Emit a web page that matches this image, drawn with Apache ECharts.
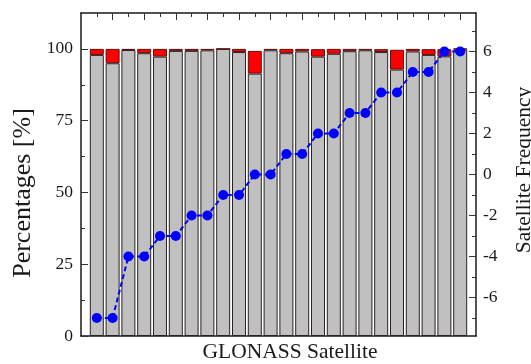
<!DOCTYPE html>
<html>
<head>
<meta charset="utf-8">
<script src="https://cdn.jsdelivr.net/npm/echarts@6/dist/echarts.min.js"></script>
<style>
  html, body { margin: 0; padding: 0; background: #fff; }
  #chart { width: 531px; height: 364px; }
</style>
</head>
<body>
<div id="chart"></div>
<script>
// GLONASS satellites, one bar per satellite slot
const satellites = ['1', '2', '3', '4', '5', '6', '7', '8', '9', '10', '11', '12',
                    '13', '14', '15', '16', '17', '18', '19', '20', '21', '22', '23', '24'];
// share of valid observations [%]
const validPct = [97.9, 95.0, 99.6, 98.5, 97.3, 99.3, 99.3, 99.5, 100.0, 98.9, 91.4, 99.5,
                  98.5, 99.1, 97.3, 98.3, 99.2, 99.5, 98.9, 92.8, 99.1, 97.9, 97.4, 99.7];
// share of rejected observations [%], stacked on top
const rejectedPct = [2.1, 5.0, 0.4, 1.5, 2.7, 0.7, 0.7, 0.5, 0.0, 1.1, 7.9, 0.5,
                     1.5, 0.9, 2.6, 1.7, 0.8, 0.5, 1.0, 6.9, 0.9, 2.0, 2.5, 0.5];
// FDMA frequency channel number
const freqChannel = [-7, -7, -4, -4, -3, -3, -2, -2, -1, -1, 0, 0, 1, 1, 2, 2, 3, 3, 4, 4, 5, 5, 6, 6];

// tick positions
const pctMajor = [0, 25, 50, 75, 100];
const pctMinor = [12.5, 37.5, 62.5, 87.5];
const freqMajor = [-6, -4, -2, 0, 2, 4, 6];
const freqMinor = [-7, -5, -3, -1, 1, 3, 5, 7];
const satMajor = [2, 4, 6, 8, 10, 12, 14, 16, 18, 20, 22, 24];
const satMinor = [1, 3, 5, 7, 9, 11, 13, 15, 17, 19, 21, 23];

const FONT = "'Liberation Serif', 'DejaVu Serif', serif";
const INK = '#1a1a1a';
const PCT_MAX = 112.5;
const FREQ_LIM = 7.875;

// frame grid: 0..25 slot scale, one unit per satellite
const FRAME = { left: 81, right: 55, top: 13, bottom: 28 };
const UNIT = (531 - FRAME.left - FRAME.right) / 25;

function xAx(pos, ticks, len, showLine) {
  return {
    gridIndex: 0, type: 'value', position: pos, min: 0, max: 25,
    axisLine: { show: showLine, onZero: false, lineStyle: { color: INK, width: 1.5 } },
    axisTick: { show: true, inside: true, length: len, customValues: ticks, lineStyle: { color: '#333', width: 1 } },
    axisLabel: { show: false },
    splitLine: { show: false }
  };
}

function yAx(grid, pos, min, max, ticks, len, labels, showLine, margin) {
  return {
    gridIndex: grid, type: 'value', position: pos, min: min, max: max,
    axisLine: { show: showLine, onZero: false, lineStyle: { color: INK, width: 1.5 } },
    axisTick: ticks ? { show: true, inside: true, length: len, customValues: ticks, lineStyle: { color: '#333', width: 1 } } : { show: false },
    axisLabel: labels ? {
      show: true, customValues: labels, margin: margin,
      fontFamily: FONT, fontSize: 17.5, color: INK
    } : { show: false },
    splitLine: { show: false }
  };
}

const chart = echarts.init(document.getElementById('chart'), null, { renderer: 'canvas' });
chart.setOption({
  animation: false,
  backgroundColor: '#fff',
  grid: [
    { left: FRAME.left, right: FRAME.right, top: FRAME.top, bottom: FRAME.bottom },
    // data grid: satellite bands sit at slots 1..24 of the frame scale
    { left: FRAME.left + UNIT / 2, right: FRAME.right + UNIT / 2, top: FRAME.top, bottom: FRAME.bottom }
  ],
  xAxis: [
    xAx('bottom', satMajor, 7, true),
    xAx('bottom', satMinor, 4, false),
    xAx('top', satMajor, 7, true),
    xAx('top', satMinor, 4, false),
    {
      gridIndex: 1, type: 'category', data: satellites, boundaryGap: true,
      axisLine: { show: false }, axisTick: { show: false }, axisLabel: { show: false }, splitLine: { show: false }
    }
  ],
  yAxis: [
    yAx(0, 'left', 0, PCT_MAX, pctMajor, 7, pctMajor, true, 8),
    yAx(0, 'left', 0, PCT_MAX, pctMinor, 4, null, false, 8),
    yAx(0, 'right', -FREQ_LIM, FREQ_LIM, freqMajor, 7, freqMajor, true, 7),
    yAx(0, 'right', -FREQ_LIM, FREQ_LIM, freqMinor, 4, null, false, 7),
    yAx(1, 'left', 0, PCT_MAX, null, 0, null, false, 0),
    yAx(1, 'right', -FREQ_LIM, FREQ_LIM, null, 0, null, false, 0)
  ],
  series: [
    {
      type: 'bar', name: 'valid', xAxisIndex: 4, yAxisIndex: 4, stack: 'pct',
      data: validPct, barWidth: 14,
      itemStyle: { color: '#c0c0c0', borderColor: '#2a2222', borderWidth: 1 }
    },
    {
      type: 'bar', name: 'rejected', xAxisIndex: 4, yAxisIndex: 4, stack: 'pct',
      data: rejectedPct, barWidth: 14,
      itemStyle: { color: '#ff0000', borderColor: '#5a1010', borderWidth: 1 }
    },
    {
      type: 'line', name: 'frequency', xAxisIndex: 4, yAxisIndex: 5,
      data: freqChannel, z: 5,
      symbol: 'circle', symbolSize: 10,
      itemStyle: { color: '#0000ff' },
      lineStyle: { color: '#0000ff', width: 2, type: [5, 3] }
    }
  ],
  graphic: [
    {
      type: 'text', x: 290, y: 352,
      style: { text: 'GLONASS Satellite', font: '21.5px ' + FONT, fill: INK, align: 'center', verticalAlign: 'middle' }
    },
    {
      type: 'text', x: 23, y: 193, rotation: Math.PI / 2,
      style: { text: 'Percentages [%]', font: '26px ' + FONT, fill: INK, align: 'center', verticalAlign: 'middle' }
    },
    {
      type: 'text', x: 524, y: 170, rotation: Math.PI / 2,
      style: { text: 'Satellite Frequency', font: '21.5px ' + FONT, fill: INK, align: 'center', verticalAlign: 'middle' }
    }
  ]
});
</script>
</body>
</html>
